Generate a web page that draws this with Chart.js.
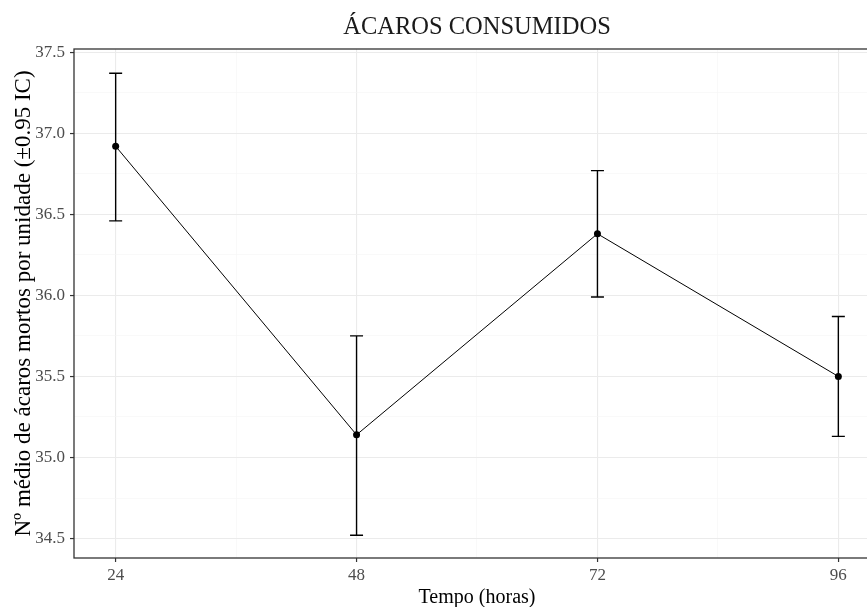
<!DOCTYPE html>
<html>
<head>
<meta charset="utf-8">
<script src="https://cdn.jsdelivr.net/npm/chart.js@4.4.0/dist/chart.umd.min.js"></script>
<style>
  html, body { margin: 0; padding: 0; background: #fff; }
  #wrap { width: 867px; height: 607px; overflow: hidden; position: relative; }
  #grafico { position: absolute; left: 0; top: 0; }
</style>
</head>
<body>
<div id="wrap"><canvas id="grafico" width="954" height="615"></canvas></div>
<script>
// dados
var horas = [24, 48, 72, 96];
var media = [36.92, 35.14, 36.38, 35.50];
var icInf = [36.46, 34.52, 35.99, 35.13];
var icSup = [37.37, 35.75, 36.77, 35.87];

var xTicks = [24, 48, 72, 96];
var yTicks = [34.5, 35.0, 35.5, 36.0, 36.5, 37.0, 37.5];

var titulo = 'ÁCAROS CONSUMIDOS';
var FONTE = "'Liberation Serif', 'DejaVu Serif', serif";

// grade secundaria = pontos medios entre as marcas principais
function comMenores(maiores) {
    var out = [];
    for (var i = 0; i < maiores.length; i++) {
        out.push({ value: maiores[i], major: true });
        if (i < maiores.length - 1) out.push({ value: (maiores[i] + maiores[i + 1]) / 2, major: false });
    }
    return out;
}
function ehMaior(ctx) { return ctx.tick && ctx.tick.major; }

var barrasErro = {
    id: 'barrasErro',
    beforeDatasetsDraw: function (chart) {
        var ctx = chart.ctx, xs = chart.scales.x, ys = chart.scales.y;
        ctx.save();
        ctx.strokeStyle = '#000';
        ctx.lineWidth = 1.4;
        for (var i = 0; i < horas.length; i++) {
            var x = xs.getPixelForValue(horas[i]);
            var y1 = ys.getPixelForValue(icInf[i]);
            var y2 = ys.getPixelForValue(icSup[i]);
            ctx.beginPath();
            ctx.moveTo(x, y1); ctx.lineTo(x, y2);
            ctx.moveTo(x - 6.5, y1); ctx.lineTo(x + 6.5, y1);
            ctx.moveTo(x - 6.5, y2); ctx.lineTo(x + 6.5, y2);
            ctx.stroke();
        }
        ctx.restore();
    },
    afterDraw: function (chart) {
        var a = chart.chartArea, ctx = chart.ctx;
        ctx.save();
        ctx.strokeStyle = '#333333';
        ctx.lineWidth = 1.3;
        ctx.strokeRect(a.left, a.top, a.right - a.left, a.bottom - a.top);
        // titulo centrado sobre o painel, como no ggplot
        ctx.fillStyle = '#1a1a1a';
        ctx.font = '24.5px ' + FONTE;
        ctx.textAlign = 'center';
        ctx.textBaseline = 'middle';
        ctx.fillText(titulo, (a.left + a.right) / 2, 27.5);
        ctx.restore();
    }
};

new Chart(document.getElementById('grafico').getContext('2d'), {
    type: 'line',
    data: {
        datasets: [{
            data: horas.map(function (h, i) { return { x: h, y: media[i] }; }),
            borderColor: '#000',
            borderWidth: 1,
            backgroundColor: '#000',
            pointRadius: 3.5,
            pointBorderWidth: 0,
            pointHoverRadius: 3.5,
            tension: 0
        }]
    },
    options: {
        responsive: false,
        animation: false,
        devicePixelRatio: 1,
        layout: { padding: { left: 0, right: 74, top: 49, bottom: 0 } },
        plugins: {
            legend: { display: false },
            tooltip: { enabled: false },
            title: { display: false }
        },
        scales: {
            x: {
                type: 'linear',
                min: 19.85,
                max: 100.15,
                afterBuildTicks: function (s) { s.ticks = comMenores(xTicks); },
                afterFit: function (s) { s.height = 57; },
                ticks: {
                    color: '#4d4d4d',
                    font: { family: FONTE, size: 17 },
                    padding: 3,
                    maxRotation: 0,
                    autoSkip: false,
                    callback: function (v) { return xTicks.indexOf(v) >= 0 ? String(v) : ''; }
                },
                grid: {
                    color: function (c) { return ehMaior(c) ? '#ebebeb' : '#f5f5f5'; },
                    lineWidth: function (c) { return ehMaior(c) ? 1.1 : 0.6; },
                    tickColor: function (c) { return ehMaior(c) ? '#333333' : 'rgba(0,0,0,0)'; },
                    tickLength: 4,
                    tickWidth: 1.2
                },
                border: { display: false },
                title: {
                    display: true,
                    text: 'Tempo (horas)',
                    color: '#000',
                    font: { family: FONTE, size: 20 },
                    padding: { top: 0, bottom: 5 }
                }
            },
            y: {
                type: 'linear',
                min: 34.38,
                max: 37.52,
                afterBuildTicks: function (s) { s.ticks = comMenores(yTicks); },
                afterFit: function (s) { s.width = 74; },
                ticks: {
                    color: '#4d4d4d',
                    font: { family: FONTE, size: 17 },
                    padding: 5,
                    autoSkip: false,
                    callback: function (v) {
                        return yTicks.indexOf(v) >= 0 ? v.toFixed(1) : '';
                    }
                },
                grid: {
                    color: function (c) { return ehMaior(c) ? '#ebebeb' : '#f5f5f5'; },
                    lineWidth: function (c) { return ehMaior(c) ? 1.1 : 0.6; },
                    tickColor: function (c) { return ehMaior(c) ? '#333333' : 'rgba(0,0,0,0)'; },
                    tickLength: 4,
                    tickWidth: 1.2
                },
                border: { display: false },
                title: {
                    display: true,
                    text: 'Nº médio de ácaros mortos por unidade (±0.95 IC)',
                    color: '#000',
                    font: { family: FONTE, size: 23 },
                    padding: { top: 10, bottom: 0 }
                }
            }
        }
    },
    plugins: [barrasErro]
});
</script>
</body>
</html>
